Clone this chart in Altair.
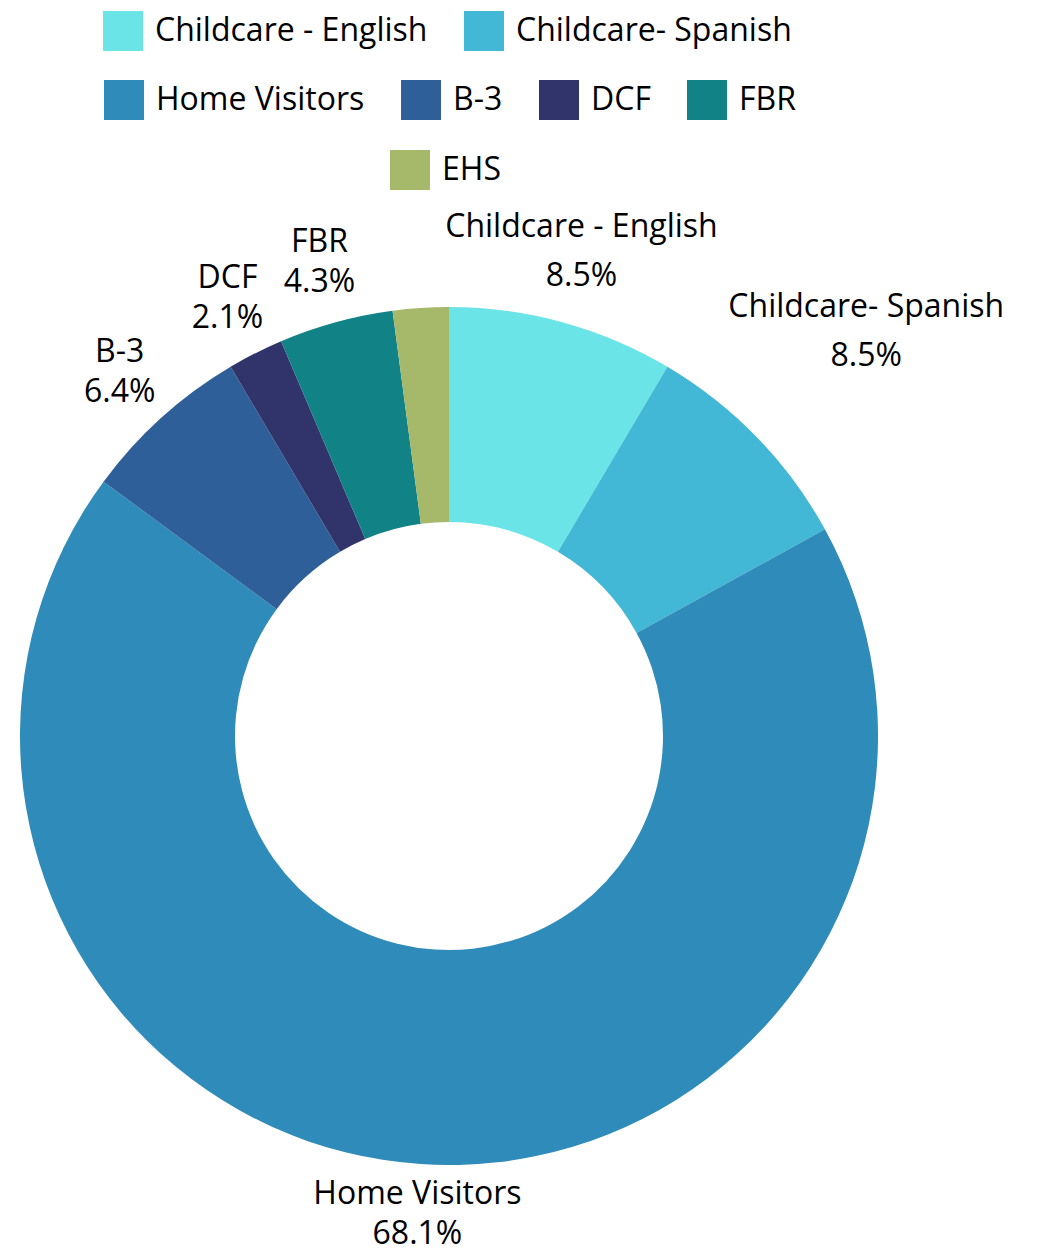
import altair as alt
import pandas as pd

categories = ["Childcare - English", "Childcare- Spanish", "Home Visitors", "B-3", "DCF", "FBR", "EHS"]
values = [8.5, 8.5, 68.1, 6.4, 2.1, 4.3, 2.1]
colors = ["#6ae4e7", "#43b7d6", "#2e8bba", "#2f5f98", "#30346b", "#118387", "#a6b86a"]
legend_rows = [
    ["Childcare - English", "Childcare- Spanish"],
    ["Home Visitors", "B-3", "DCF", "FBR"],
    ["EHS"],
]
wide_labels = ["Childcare - English", "Childcare- Spanish"]

FONT = "Open Sans"
FS = 32
df = pd.DataFrame({"cat": categories, "value": values, "order": list(range(len(categories)))})
df["label"] = [f"{c}\n{v:.1f}%" for c, v in zip(categories, values)]

CX, CY = 441, 728
theta_scale = alt.Scale(domain=[0, 100], range=[0, 6.283185307179586])

base = (
    alt.Chart(df)
    .transform_window(end="sum(value)", sort=[alt.SortField("order")], frame=[None, 0])
    .transform_calculate(start="datum.end - datum.value", mid="datum.end - datum.value/2")
)

legend_pos = [(95, 3), (96, 72), (382, 142)]
layers = []
for row, (lx, ly) in zip(legend_rows, legend_pos):
    row_colors = [colors[categories.index(c)] for c in row]
    layer = (
        base.transform_filter(alt.FieldOneOfPredicate(field="cat", oneOf=row))
        .mark_arc(outerRadius=429, innerRadius=214, strokeWidth=0)
        .encode(
            theta=alt.Theta("start:Q", scale=theta_scale),
            theta2="end:Q",
            x=alt.value(CX),
            y=alt.value(CY),
            color=alt.Color(
                "cat:N",
                scale=alt.Scale(domain=row, range=row_colors),
                sort=row,
                legend=alt.Legend(
                    title=None,
                    orient="none",
                    legendX=lx,
                    legendY=ly,
                    direction="horizontal",
                    symbolType="square",
                    symbolSize=1600,
                    symbolStrokeWidth=0,
                    symbolOpacity=1,
                    labelFont=FONT,
                    labelFontSize=FS,
                    labelColor="#000000",
                    labelOffset=12,
                    labelLimit=600,
                    columnPadding=36,
                    padding=0,
                ),
            ),
        )
    )
    layers.append(layer)

label_base = base.transform_calculate(
    lr="datum.cat == 'Childcare- Spanish' ? 581 : (datum.cat == 'Childcare - English' ? 502 : (datum.cat == 'Home Visitors' ? 479 : 491))"
)
label_enc = dict(
    theta=alt.Theta("mid:Q", scale=theta_scale),
    radius=alt.Radius("lr:Q", scale=None),
    x=alt.value(CX),
    y=alt.value(CY),
    text="label:N",
)
labels_wide = (
    label_base.transform_filter(alt.FieldOneOfPredicate(field="cat", oneOf=wide_labels))
    .mark_text(font=FONT, fontSize=FS, color="#000000", align="center", baseline="middle",
               lineBreak="\n", lineHeight=49, dy=-24.5)
    .encode(**label_enc)
)
labels_other = (
    label_base.transform_filter(
        alt.FieldOneOfPredicate(field="cat", oneOf=[c for c in categories if c not in wide_labels and c != "EHS"])
    )
    .mark_text(font=FONT, fontSize=FS, color="#000000", align="center", baseline="middle",
               lineBreak="\n", lineHeight=40, dy=-20)
    .encode(**label_enc)
)
layers += [labels_wide, labels_other]

chart = (
    alt.layer(*layers)
    .resolve_scale(color="independent")
    .properties(width=1041, height=1246, autosize=alt.AutoSizeParams(type="none"), padding=0)
    .configure_view(stroke=None)
)

chart.save("out.html", embed_options={"renderer": "svg", "actions": False})
